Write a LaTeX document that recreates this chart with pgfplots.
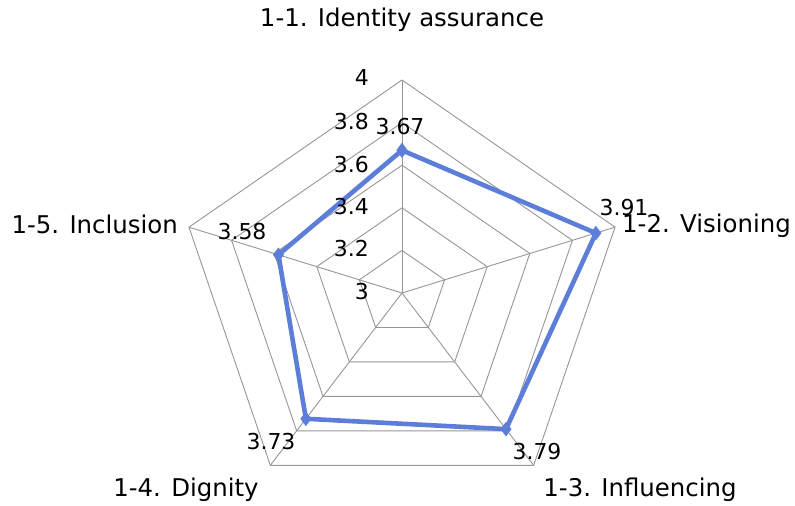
\documentclass[border=0pt]{standalone}
\usepackage{fontspec}
\setmainfont{DejaVu Sans}
\usepackage{pgfplots}
\usepackage{pgfplotstable}
\pgfplotsset{compat=1.18}

\definecolor{seriesblue}{RGB}{92,126,216}
\definecolor{gridgray}{RGB}{150,150,150}

% scores per dimension (angle in degrees, score)
\pgfplotstableread{
a v
90 3.67
18 3.91
-54 3.79
-126 3.73
162 3.58
90 3.67
}\scores

% ring corners (angle), spoke ends (score)
\pgfplotstableread{
a n
90 0
18 0
-54 0
-126 0
162 0
90 0
}\ring

\pgfplotstableread{
v n
3 0
4 0
}\spoke

% pixels per score unit, horizontal / vertical
\def\sx{224}
\def\sy{213}

\begin{document}
\begin{tikzpicture}[
  gridline/.style={gridgray, line width=0.9bp, mark=none},
  lab/.style={font=\fontsize{22}{24}\selectfont, inner sep=0pt},
  cat/.style={font=\fontsize{24.5}{27}\selectfont, inner sep=0pt}]
\begin{axis}[
  x=1bp, y=1bp,
  xmin=-402, xmax=393, ymin=-213, ymax=293,
  hide axis, clip=false]
\path (axis cs:-402,-213) rectangle (axis cs:393,293);

% pentagon rings
\pgfplotsinvokeforeach{3.2,3.4,3.6,3.8,4}{
  \addplot[gridline] table[x expr={(#1-3)*\sx*cos(\thisrow{a})},
                           y expr={(#1-3)*\sy*sin(\thisrow{a})}]{\ring};
}
% spokes
\pgfplotsinvokeforeach{90,18,-54,-126,162}{
  \addplot[gridline] table[x expr={(\thisrow{v}-3)*\sx*cos(#1)},
                           y expr={(\thisrow{v}-3)*\sy*sin(#1)}]{\spoke};
}

% series
\addplot[seriesblue, line width=4.6bp, mark=diamond*, mark size=6.5bp,
  mark options={solid, line width=1bp}]
  table[x expr={(\thisrow{v}-3)*\sx*cos(\thisrow{a})},
        y expr={(\thisrow{v}-3)*\sy*sin(\thisrow{a})}]{\scores};

% scale labels
\node[lab, anchor=east] at (axis cs:-33,215) {4};
\node[lab, anchor=east] at (axis cs:-33,171) {3.8};
\node[lab, anchor=east] at (axis cs:-33,128) {3.6};
\node[lab, anchor=east] at (axis cs:-33,86) {3.4};
\node[lab, anchor=east] at (axis cs:-33,44) {3.2};
\node[lab, anchor=east] at (axis cs:-33,1) {3};

% value labels
\node[lab] at (axis cs:-2,166) {3.67};
\node[lab] at (axis cs:222,85) {3.91};
\node[lab] at (axis cs:135,-159) {3.79};
\node[lab] at (axis cs:-131,-149) {3.73};
\node[lab] at (axis cs:-160,61) {3.58};

% category labels
\node[cat, anchor=base] at (axis cs:0,266) {1-1. Identity assurance};
\node[cat, anchor=base west] at (axis cs:220,60) {1-2. Visioning};
\node[cat, anchor=base] at (axis cs:238,-204) {1-3. Influencing};
\node[cat, anchor=base] at (axis cs:-216,-204) {1-4. Dignity};
\node[cat, anchor=base east] at (axis cs:-224,59) {1-5. Inclusion};
\end{axis}
\end{tikzpicture}
\end{document}
